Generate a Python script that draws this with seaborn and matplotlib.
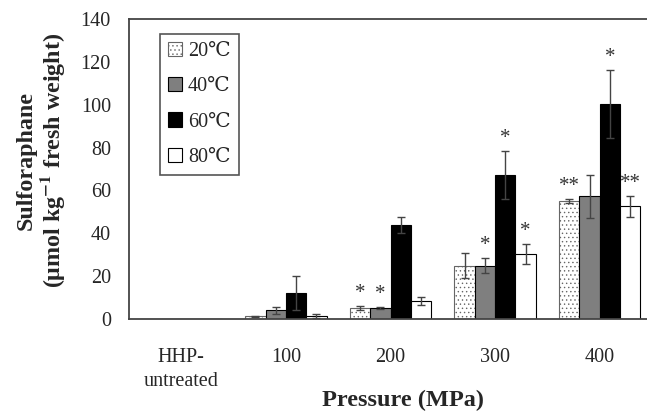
import matplotlib
matplotlib.use("Agg")
import matplotlib.pyplot as plt
import pandas as pd
import seaborn as sns

# Data
pressures = ["HHP-\nuntreated", "100", "200", "300", "400"]
temps = ["20℃", "40℃", "60℃", "80℃"]

mean_20 = [0, 1.2, 5.3, 24.9, 55.1]
mean_40 = [0, 4.0, 5.0, 24.9, 57.3]
mean_60 = [0, 12.3, 43.9, 67.2, 100.2]
mean_80 = [0, 1.5, 8.4, 30.2, 52.6]

err_20 = [0, 0.4, 1.0, 5.8, 1.0]
err_40 = [0, 1.7, 0.5, 3.5, 10.0]
err_60 = [0, 7.9, 3.7, 11.2, 15.8]
err_80 = [0, 1.0, 1.7, 4.7, 5.0]

stars_20 = ["", "", "*", "", "**"]
stars_40 = ["", "", "*", "*", ""]
stars_60 = ["", "", "", "*", "*"]
stars_80 = ["", "", "", "*", "**"]

means = [mean_20, mean_40, mean_60, mean_80]
errs = [err_20, err_40, err_60, err_80]
stars = [stars_20, stars_40, stars_60, stars_80]

df = pd.DataFrame({
    "pressure": pressures * len(temps),
    "temp": [t for t in temps for _ in pressures],
    "value": [v for m in means for v in m],
})

sns.set_style("white")
plt.rcParams["font.family"] = ["Liberation Serif", "DejaVu Serif", "Noto Sans CJK SC"]
plt.rcParams["mathtext.fontset"] = "stix"
plt.rcParams["hatch.linewidth"] = 0.5

fig = plt.figure(figsize=(6.47, 4.15), dpi=100)
ax = fig.add_axes([129 / 647, 96 / 415, 523 / 647, 300 / 415])

sns.barplot(data=df, x="pressure", y="value", hue="temp", order=pressures,
            hue_order=temps, palette=["white", "#7f7f7f", "black", "white"],
            edgecolor="black", linewidth=0.8, width=0.78, errorbar=None,
            legend=False, ax=ax)
bars = list(ax.containers)

# dotted fill for the 20 degree bars
for p in bars[0].patches:
    p.set_hatch("....")
    p.set_edgecolor("#666666")

# error bars and significance marks
for i, cont in enumerate(bars):
    for j, p in enumerate(cont.patches):
        x = p.get_x() + p.get_width() / 2
        h = p.get_height()
        if errs[i][j] > 0:
            ax.errorbar(x, h, yerr=errs[i][j], color="#444444", capsize=3,
                        elinewidth=1, capthick=1, zorder=3)
        if stars[i][j]:
            ax.annotate(stars[i][j], (x, h + errs[i][j]), xytext=(0, 9),
                        textcoords="offset points", ha="center", va="center",
                        fontsize=15, color="#333333")

ax.set_xlim(-0.5, 4.5)
ax.set_ylim(0, 140)
ax.set_yticks(range(0, 141, 20))
ax.set_xticks([0.5, 1.5, 2.5, 3.5], minor=True)
ax.tick_params(axis="x", which="major", length=0, pad=21, labelsize=14.5)
ax.tick_params(axis="x", which="minor", direction="in", length=6,
               width=1.2, color="#444444")
ax.tick_params(axis="y", length=0, pad=13, labelsize=14.5)
for lab in ax.get_xticklabels():
    lab.set_linespacing(1.35)

for s in ["left", "bottom", "top"]:
    ax.spines[s].set_color("#444444")
    ax.spines[s].set_linewidth(1.3)
ax.spines["right"].set_visible(False)

ax.set_xlabel("Pressure (MPa)", fontsize=17.5, fontweight="bold")
ax.xaxis.set_label_coords(0.524, -0.235)
ax.set_ylabel("Sulforaphane\n(μmol kg$^{\\mathbf{-1}}$ fresh weight)",
              fontsize=17.3, fontweight="bold", linespacing=1.05)
ax.yaxis.set_label_coords(-0.118, 0.527)

ax.legend(handles=bars, labels=temps, loc="upper left",
          bbox_to_anchor=(0.059, 0.95), borderaxespad=0, fontsize=14.5,
          handlelength=0.7, handleheight=0.7, handletextpad=0.3,
          labelspacing=0.8, borderpad=0.4, fancybox=False, framealpha=1,
          edgecolor="#555555")
ax.get_legend().get_frame().set_linewidth(1.2)

fig.savefig("out.png", dpi=100, facecolor="white")
